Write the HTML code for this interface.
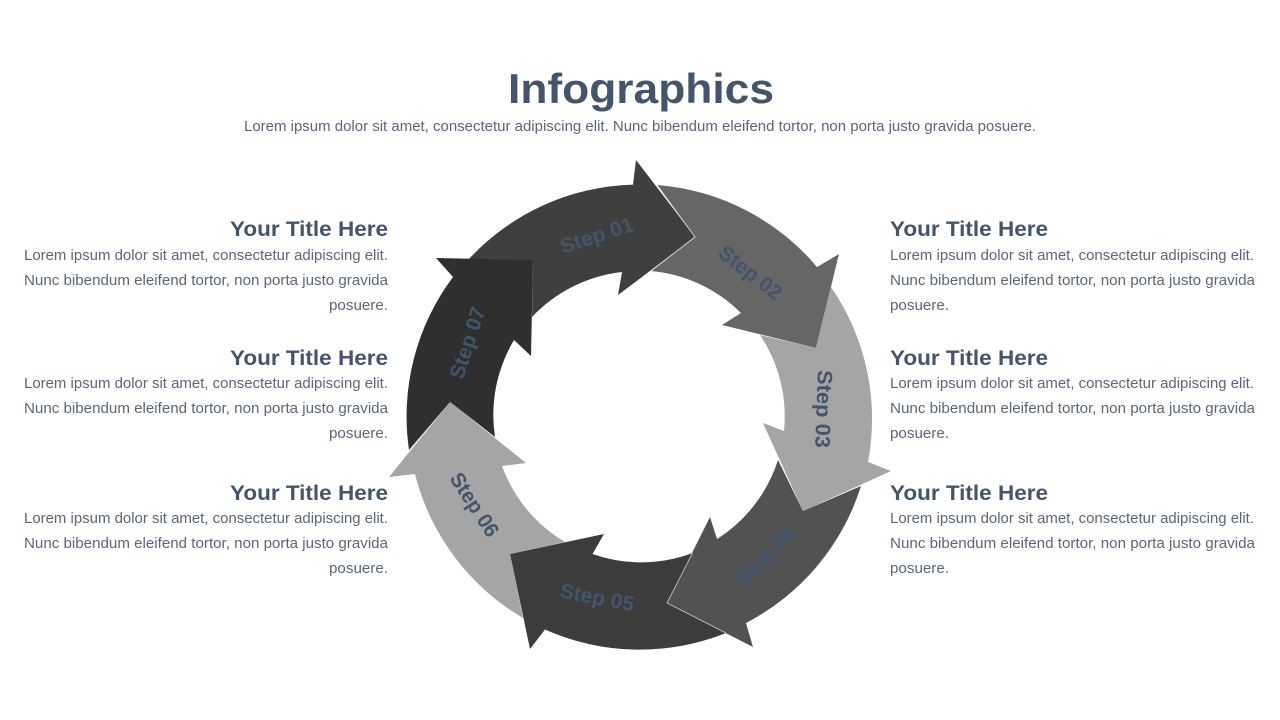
<!DOCTYPE html>
<html><head><meta charset="utf-8"><style>
html,body{margin:0;padding:0;background:#fff;width:1280px;height:720px;overflow:hidden}
svg{display:block}
text{font-family:"Liberation Sans",sans-serif}
.t{font-size:21.5px;font-weight:bold;fill:#44546a}
.b{font-size:14.5px;fill:#5b6677}
.s{font-size:21px;font-weight:bold;fill:#44546a;text-anchor:middle;dominant-baseline:central}
</style></head><body>
<svg width="1280" height="720" viewBox="0 0 1280 720" xmlns="http://www.w3.org/2000/svg">
<defs><filter id="bl" x="-20%" y="-20%" width="140%" height="140%"><feGaussianBlur stdDeviation="0.7"/></filter></defs>
<rect width="1280" height="720" fill="#fff"/>
<text x="508" y="103" font-size="41.5" font-weight="bold" fill="#44546a" textLength="266" lengthAdjust="spacingAndGlyphs">Infographics</text>
<text x="244" y="131" class="b" textLength="792" lengthAdjust="spacingAndGlyphs">Lorem ipsum dolor sit amet, consectetur adipiscing elit. Nunc bibendum eleifend tortor, non porta justo gravida posuere.</text>

<!-- arrows -->
<path fill="#3f3f3f" d="M468 260 A232.5 232.5 0 0 1 633 184.6 L636 160 L695 237 L618 295 L622 272 A146 146 0 0 0 532 317 L533 260 Z"/>
<path fill="#666666" d="M657 185 A232.5 232.5 0 0 1 817 267 L839 254 L816 348 L722 325 L741 313 A146 146 0 0 0 651 271 L695 237 Z"/>
<path fill="#a5a5a5" d="M831 287 A232.5 232.5 0 0 1 868 462 L891 471 L803 511 L763 423 L784 431 A146 146 0 0 0 760 335 L816 348 Z"/>
<path fill="#525252" d="M861 486 A232.5 232.5 0 0 1 746 623 L753 647 L667 603 L710 517 L717 539 A146 146 0 0 0 778 460 L803 511 Z"/>
<path fill="#3c3c3c" d="M726 633 A232.5 232.5 0 0 1 545 629.5 L530 649 L510 554 L604 534 L592.5 554 A146 146 0 0 0 692.5 553 L667 603 Z"/>
<path fill="#a5a5a5" d="M523 618 A232.5 232.5 0 0 1 415 474 L389 477 L450 402 L526 463 L502 466 A146 146 0 0 0 565 542 L510 554 Z"/>
<path fill="#2f2f2f" d="M409 450 A232.5 232.5 0 0 1 453 277 L436 258 L533 260 L531 356 L514 340 A146 146 0 0 0 495 437 L450 402 Z"/>
<path fill="none" stroke="#e6e6e6" stroke-width="0.8" d="M657 185 L695 237 L651 271"/>
<path fill="none" stroke="#cfcfcf" stroke-width="0.8" d="M692.5 553 L667 603 L726 633"/>

<!-- step labels -->
<text class="s" transform="translate(597 236) rotate(-18)" textLength="76" lengthAdjust="spacingAndGlyphs">Step 01</text>
<text class="s" transform="translate(750 273) rotate(38)" textLength="74" lengthAdjust="spacingAndGlyphs">Step 02</text>
<text class="s" transform="translate(823 409) rotate(92)" textLength="78" lengthAdjust="spacingAndGlyphs">Step 03</text>
<text class="s" style="font-size:19px" filter="url(#bl)" stroke="#44546a" stroke-width="0.8" transform="translate(766 557) rotate(-47)" textLength="72" lengthAdjust="spacingAndGlyphs">Step 04</text>
<text class="s" transform="translate(597 598) rotate(11)" textLength="75" lengthAdjust="spacingAndGlyphs">Step 05</text>
<text class="s" transform="translate(474 505) rotate(57)" textLength="72" lengthAdjust="spacingAndGlyphs">Step 06</text>
<text class="s" transform="translate(468 343) rotate(-72)" textLength="74" lengthAdjust="spacingAndGlyphs">Step 07</text>

<!-- left column -->
<g>
<text x="230" y="236" class="t" textLength="158" lengthAdjust="spacingAndGlyphs">Your Title Here</text>
<text x="24" y="260" class="b" textLength="364" lengthAdjust="spacingAndGlyphs">Lorem ipsum dolor sit amet, consectetur adipiscing elit.</text>
<text x="24" y="285" class="b" textLength="364" lengthAdjust="spacingAndGlyphs">Nunc bibendum eleifend tortor, non porta justo gravida</text>
<text x="329" y="310" class="b" textLength="59" lengthAdjust="spacingAndGlyphs">posuere.</text>

<text x="230" y="365" class="t" textLength="158" lengthAdjust="spacingAndGlyphs">Your Title Here</text>
<text x="24" y="388" class="b" textLength="364" lengthAdjust="spacingAndGlyphs">Lorem ipsum dolor sit amet, consectetur adipiscing elit.</text>
<text x="24" y="413" class="b" textLength="364" lengthAdjust="spacingAndGlyphs">Nunc bibendum eleifend tortor, non porta justo gravida</text>
<text x="329" y="438" class="b" textLength="59" lengthAdjust="spacingAndGlyphs">posuere.</text>

<text x="230" y="500" class="t" textLength="158" lengthAdjust="spacingAndGlyphs">Your Title Here</text>
<text x="24" y="523" class="b" textLength="364" lengthAdjust="spacingAndGlyphs">Lorem ipsum dolor sit amet, consectetur adipiscing elit.</text>
<text x="24" y="548" class="b" textLength="364" lengthAdjust="spacingAndGlyphs">Nunc bibendum eleifend tortor, non porta justo gravida</text>
<text x="329" y="573" class="b" textLength="59" lengthAdjust="spacingAndGlyphs">posuere.</text>
</g>

<!-- right column -->
<g>
<text x="890" y="236" class="t" textLength="158" lengthAdjust="spacingAndGlyphs">Your Title Here</text>
<text x="890" y="260" class="b" textLength="364" lengthAdjust="spacingAndGlyphs">Lorem ipsum dolor sit amet, consectetur adipiscing elit.</text>
<text x="890" y="285" class="b" textLength="365" lengthAdjust="spacingAndGlyphs">Nunc bibendum eleifend tortor, non porta justo gravida</text>
<text x="890" y="310" class="b" textLength="59" lengthAdjust="spacingAndGlyphs">posuere.</text>

<text x="890" y="365" class="t" textLength="158" lengthAdjust="spacingAndGlyphs">Your Title Here</text>
<text x="890" y="388" class="b" textLength="364" lengthAdjust="spacingAndGlyphs">Lorem ipsum dolor sit amet, consectetur adipiscing elit.</text>
<text x="890" y="413" class="b" textLength="365" lengthAdjust="spacingAndGlyphs">Nunc bibendum eleifend tortor, non porta justo gravida</text>
<text x="890" y="438" class="b" textLength="59" lengthAdjust="spacingAndGlyphs">posuere.</text>

<text x="890" y="500" class="t" textLength="158" lengthAdjust="spacingAndGlyphs">Your Title Here</text>
<text x="890" y="523" class="b" textLength="364" lengthAdjust="spacingAndGlyphs">Lorem ipsum dolor sit amet, consectetur adipiscing elit.</text>
<text x="890" y="548" class="b" textLength="365" lengthAdjust="spacingAndGlyphs">Nunc bibendum eleifend tortor, non porta justo gravida</text>
<text x="890" y="573" class="b" textLength="59" lengthAdjust="spacingAndGlyphs">posuere.</text>
</g>
</svg>
</body></html>
